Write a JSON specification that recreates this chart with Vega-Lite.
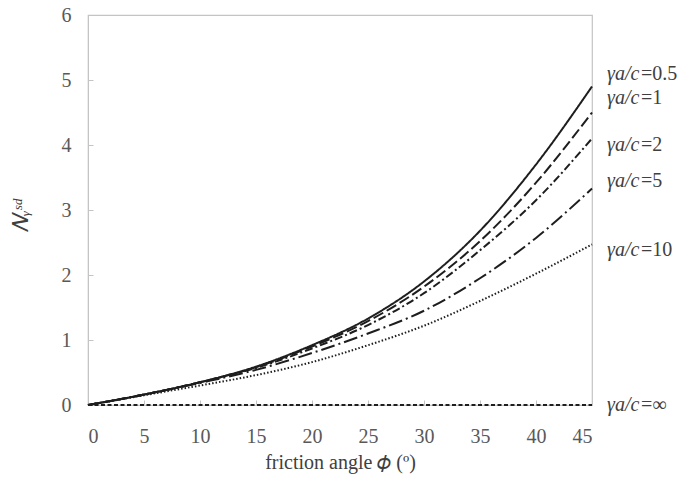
{
  "$schema": "https://vega.github.io/schema/vega-lite/v6.json",
  "width": 504,
  "height": 390,
  "autosize": "none",
  "padding": {"left": 88, "top": 15, "right": 89, "bottom": 72},
  "background": "white",
  "config": {
    "view": {"stroke": "#c4c4c4", "strokeWidth": 1.2},
    "font": "Liberation Serif, Times New Roman, serif",
    "axis": {
      "grid": false,
      "domainColor": "#c4c4c4",
      "tickColor": "#c4c4c4",
      "labelFont": "Liberation Serif, Times New Roman, serif",
      "labelFontSize": 20,
      "labelColor": "#595959",
      "titleFont": "Liberation Serif, Times New Roman, serif",
      "titleColor": "#404040",
      "titleFontWeight": "normal"
    }
  },
  "datasets": {
    "curves": [
      {"phi": 0, "N": 0, "s": "0.5"}, {"phi": 5, "N": 0.16, "s": "0.5"}, {"phi": 10, "N": 0.35, "s": "0.5"}, {"phi": 15, "N": 0.59, "s": "0.5"}, {"phi": 20, "N": 0.92, "s": "0.5"}, {"phi": 25, "N": 1.33, "s": "0.5"}, {"phi": 30, "N": 1.9, "s": "0.5"}, {"phi": 35, "N": 2.68, "s": "0.5"}, {"phi": 40, "N": 3.7, "s": "0.5"}, {"phi": 45, "N": 4.9, "s": "0.5"},
      {"phi": 0, "N": 0, "s": "1"}, {"phi": 5, "N": 0.16, "s": "1"}, {"phi": 10, "N": 0.35, "s": "1"}, {"phi": 15, "N": 0.58, "s": "1"}, {"phi": 20, "N": 0.9, "s": "1"}, {"phi": 25, "N": 1.29, "s": "1"}, {"phi": 30, "N": 1.82, "s": "1"}, {"phi": 35, "N": 2.52, "s": "1"}, {"phi": 40, "N": 3.42, "s": "1"}, {"phi": 45, "N": 4.5, "s": "1"},
      {"phi": 0, "N": 0, "s": "2"}, {"phi": 5, "N": 0.16, "s": "2"}, {"phi": 10, "N": 0.35, "s": "2"}, {"phi": 15, "N": 0.57, "s": "2"}, {"phi": 20, "N": 0.87, "s": "2"}, {"phi": 25, "N": 1.23, "s": "2"}, {"phi": 30, "N": 1.72, "s": "2"}, {"phi": 35, "N": 2.38, "s": "2"}, {"phi": 40, "N": 3.15, "s": "2"}, {"phi": 45, "N": 4.1, "s": "2"},
      {"phi": 0, "N": 0, "s": "5"}, {"phi": 5, "N": 0.16, "s": "5"}, {"phi": 10, "N": 0.34, "s": "5"}, {"phi": 15, "N": 0.54, "s": "5"}, {"phi": 20, "N": 0.8, "s": "5"}, {"phi": 25, "N": 1.1, "s": "5"}, {"phi": 30, "N": 1.45, "s": "5"}, {"phi": 35, "N": 1.95, "s": "5"}, {"phi": 40, "N": 2.57, "s": "5"}, {"phi": 45, "N": 3.33, "s": "5"},
      {"phi": 0, "N": 0, "s": "10"}, {"phi": 5, "N": 0.15, "s": "10"}, {"phi": 10, "N": 0.3, "s": "10"}, {"phi": 15, "N": 0.46, "s": "10"}, {"phi": 20, "N": 0.66, "s": "10"}, {"phi": 25, "N": 0.92, "s": "10"}, {"phi": 30, "N": 1.22, "s": "10"}, {"phi": 35, "N": 1.6, "s": "10"}, {"phi": 40, "N": 2.02, "s": "10"}, {"phi": 45, "N": 2.47, "s": "10"},
      {"phi": 0, "N": 0, "s": "inf"}, {"phi": 15, "N": 0, "s": "inf"}, {"phi": 30, "N": 0, "s": "inf"}, {"phi": 45, "N": 0, "s": "inf"}
    ],
    "labels": [
      {"s": "0.5", "y": 5.1, "t1": "γa/c", "t2": "=0.5"},
      {"s": "1", "y": 4.72, "t1": "γa/c", "t2": "=1"},
      {"s": "2", "y": 4.0, "t1": "γa/c", "t2": "=2"},
      {"s": "5", "y": 3.45, "t1": "γa/c", "t2": "=5"},
      {"s": "10", "y": 2.38, "t1": "γa/c", "t2": "=10"},
      {"s": "inf", "y": 0, "t1": "γa/c", "t2": "=∞"}
    ]
  },
  "layer": [
    {
      "data": {"name": "curves"},
      "mark": {"type": "line", "interpolate": "monotone", "color": "#1e1e1e", "clip": false},
      "encoding": {
        "x": {
          "field": "phi", "type": "quantitative",
          "scale": {"domain": [0, 45], "nice": false},
          "axis": {"values": [0, 5, 10, 15, 20, 25, 30, 35, 40, 45], "format": "d", "tickSize": -5, "labelPadding": 26, "title": "friction angle 𝜙 (º)", "titleFontSize": 20, "titlePadding": 6}
        },
        "y": {
          "field": "N", "type": "quantitative",
          "scale": {"domain": [0, 6], "nice": false},
          "axis": {"values": [0, 1, 2, 3, 4, 5, 6], "format": "d", "tickSize": -5, "labelPadding": 22, "title": "𝑁ᵧˢᵈ", "titleFontSize": 22, "titleFontStyle": "italic", "titleAngle": -90, "titleX": -68, "titleY": 200, "titleBaseline": "middle", "titleAlign": "center"}
        },
        "detail": {"field": "s"},
        "strokeDash": {
          "field": "s", "type": "nominal", "legend": null,
          "scale": {"domain": ["0.5", "1", "2", "5", "10", "inf"], "range": [[1, 0], [11, 4], [8, 3, 2, 3], [14, 4, 2, 4], [1.5, 2], [4, 2.5]]}
        },
        "strokeWidth": {
          "field": "s", "type": "nominal", "legend": null,
          "scale": {"domain": ["0.5", "1", "2", "5", "10", "inf"], "range": [2, 2, 2, 2, 1.6, 2]}
        }
      }
    },
    {
      "data": {"name": "labels"},
      "mark": {"type": "text", "align": "left", "baseline": "middle", "dx": 15, "fontSize": 20, "fontStyle": "italic", "color": "#404040", "font": "Liberation Serif, Times New Roman, serif"},
      "encoding": {
        "x": {"datum": 45, "type": "quantitative"},
        "y": {"field": "y", "type": "quantitative"},
        "text": {"field": "t1"}
      }
    },
    {
      "data": {"name": "labels"},
      "mark": {"type": "text", "align": "left", "baseline": "middle", "dx": 49, "fontSize": 20, "color": "#404040", "font": "Liberation Serif, Times New Roman, serif"},
      "encoding": {
        "x": {"datum": 45, "type": "quantitative"},
        "y": {"field": "y", "type": "quantitative"},
        "text": {"field": "t2"}
      }
    }
  ]
}
